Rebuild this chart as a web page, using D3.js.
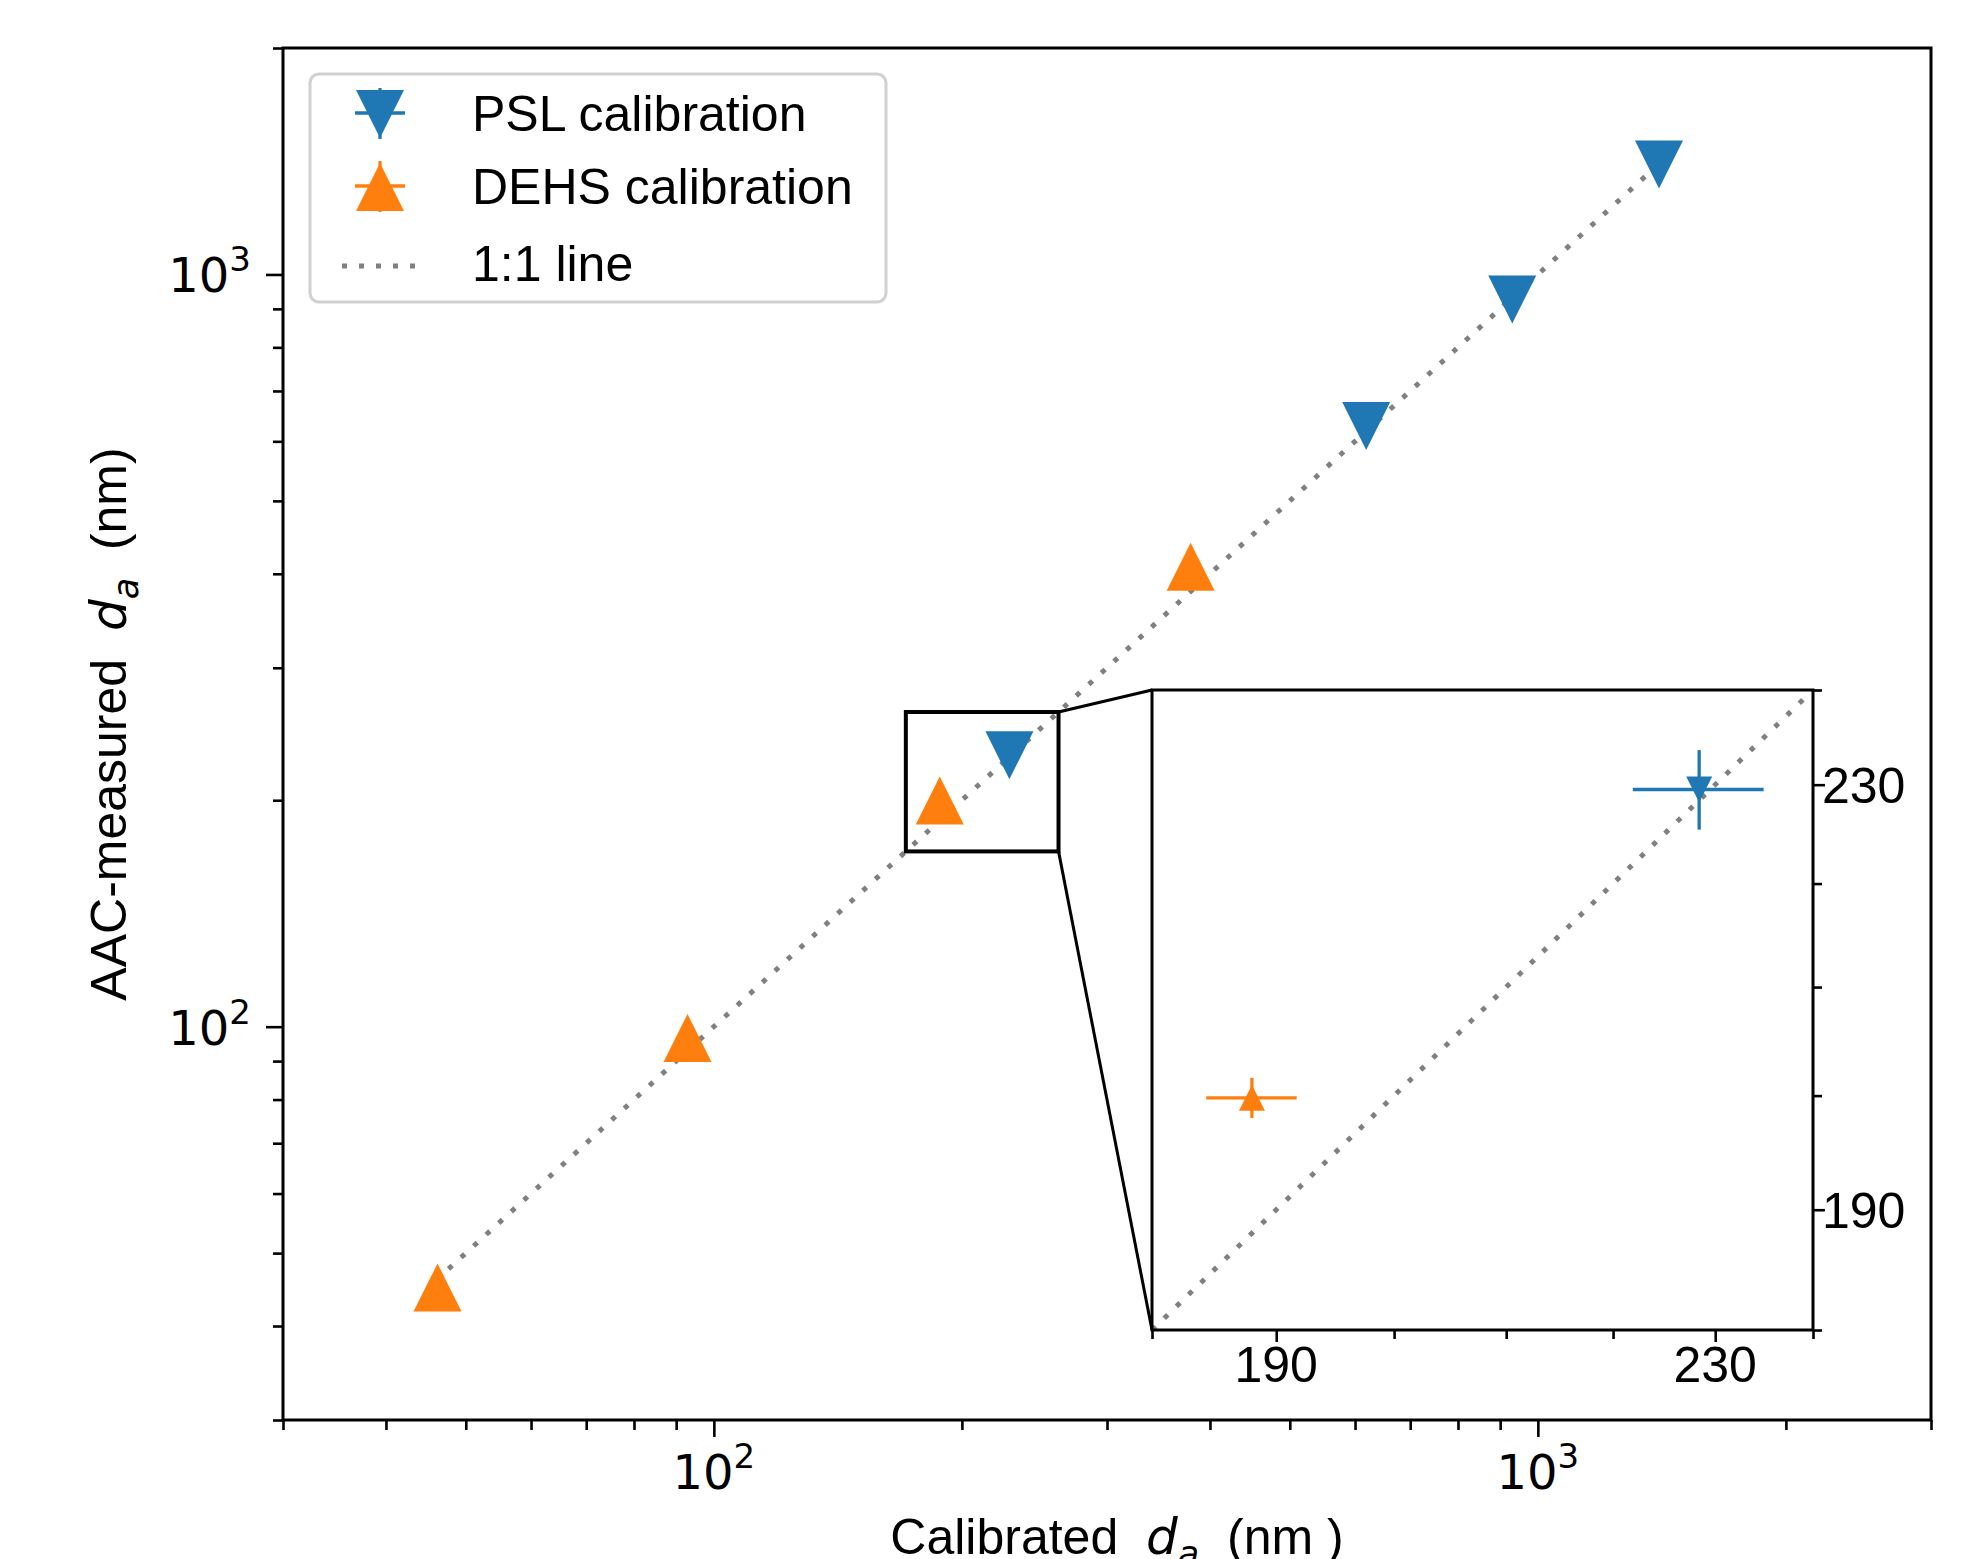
<!DOCTYPE html>
<html lang="en">
<head>
    <meta charset="UTF-8">
    <title>AAC calibration</title>
    <script src="https://cdn.jsdelivr.net/npm/d3@7"></script>
    <style>
        body { margin: 0; background: #fff; }
        text { font-family: "Liberation Sans", Arial, sans-serif; fill: #000; white-space: pre; }
        .math { font-family: "DejaVu Sans", sans-serif; }
    </style>
</head>
<body>
<div id="chart-space"></div>
<script>
    // data (nm)
    var pslCalibrated = [228.4, 619, 931, 1403];
    var pslMeasured   = [229.5, 629, 926, 1400];
    var pslErrX       = [6.5, 12, 15, 20];
    var pslErrY       = [4.1, 10, 14, 18];

    var dehsCalibrated = [46.2, 92.9, 188.0, 379];
    var dehsMeasured   = [45.0, 96.6, 199.8, 408.7];
    var dehsErrX       = [1.0, 2.0, 3.7, 7];
    var dehsErrY       = [0.8, 1.5, 1.8, 5];

    var oneToOne = [46, 1400];

    // axis ranges and ticks
    var mainRange = [30, 3000];
    var mainYRange = [30, 2000];
    var majorTicks = [100, 1000];
    var majorExp = ["2", "3"];
    var minorTicksX = [30, 40, 50, 60, 70, 80, 90, 200, 300, 400, 500, 600, 700, 800, 900, 2000, 3000];
    var minorTicksY = [30, 40, 50, 60, 70, 80, 90, 200, 300, 400, 500, 600, 700, 800, 900, 2000];

    var insetRange = [180, 240];
    var insetMajor = [190, 230];
    var insetMinor = [180, 200, 210, 220, 240];
    var zoomBox = [171, 262];

    var legendLabels = ["PSL calibration", "DEHS calibration", "1:1 line"];

    var blue = "#1f77b4", orange = "#ff7f0e", grey = "#808080";

    var width = 1970, height = 1559;
    var margin = {top: 48, left: 283, right: 39, bottom: 139};
    var chartWidth = width - margin.left - margin.right;
    var chartHeight = height - margin.top - margin.bottom;

    var inset = {x: 1152, y: 690, w: 661, h: 640};

    var svg = d3.select("#chart-space").append("svg")
        .attr("width", width).attr("height", height);

    var xScale = d3.scaleLog().domain(mainRange).range([0, chartWidth]);
    var yScale = d3.scaleLog().domain(mainYRange).range([chartHeight, 0]);

    var g = svg.append("g").attr("transform", "translate(" + margin.left + "," + margin.top + ")");

    function tri(size, up) {
        var h = size / 2;
        return up ? "M0," + (-h) + "L" + h + "," + h + "L" + (-h) + "," + h + "Z"
                  : "M0," + h + "L" + h + "," + (-h) + "L" + (-h) + "," + (-h) + "Z";
    }

    function styleAxis(sel) {
        sel.select(".domain").remove();
        sel.selectAll(".tick line").attr("stroke", "#000").attr("stroke-width", 2.6);
        sel.selectAll(".tick text").remove();
    }

    function drawSeries(target, xs, ys, xc, yc, ex, ey, colour, up, size) {
        var pts = xc.map(function(d, i) { return {x: d, y: yc[i], ex: ex[i], ey: ey[i]}; });
        target.selectAll(null).data(pts).join("line")
            .attr("x1", function(d){ return xs(d.x - d.ex); })
            .attr("x2", function(d){ return xs(d.x + d.ex); })
            .attr("y1", function(d){ return ys(d.y); })
            .attr("y2", function(d){ return ys(d.y); })
            .attr("stroke", colour).attr("stroke-width", 3.3);
        target.selectAll(null).data(pts).join("line")
            .attr("x1", function(d){ return xs(d.x); })
            .attr("x2", function(d){ return xs(d.x); })
            .attr("y1", function(d){ return ys(d.y - d.ey); })
            .attr("y2", function(d){ return ys(d.y + d.ey); })
            .attr("stroke", colour).attr("stroke-width", 3.3);
        target.selectAll(null).data(pts).join("path")
            .attr("d", tri(size, up))
            .attr("transform", function(d){ return "translate(" + xs(d.x) + "," + ys(d.y) + ")"; })
            .attr("fill", colour);
    }

    // 1:1 line
    g.append("line")
        .attr("x1", xScale(oneToOne[0])).attr("y1", yScale(oneToOne[0]))
        .attr("x2", xScale(oneToOne[1])).attr("y2", yScale(oneToOne[1]))
        .attr("stroke", grey).attr("stroke-width", 5).attr("stroke-dasharray", "5,12");

    drawSeries(g, xScale, yScale, pslCalibrated, pslMeasured, pslErrX, pslErrY, blue, false, 48);
    drawSeries(g, xScale, yScale, dehsCalibrated, dehsMeasured, dehsErrX, dehsErrY, orange, true, 48);

    // ticks
    g.append("g").attr("transform", "translate(0," + chartHeight + ")")
        .call(d3.axisBottom(xScale).tickValues(majorTicks).tickSize(17)).call(styleAxis);
    g.append("g").attr("transform", "translate(0," + chartHeight + ")")
        .call(d3.axisBottom(xScale).tickValues(minorTicksX).tickSize(10)).call(styleAxis);
    g.append("g").call(d3.axisLeft(yScale).tickValues(majorTicks).tickSize(17)).call(styleAxis);
    g.append("g").call(d3.axisLeft(yScale).tickValues(minorTicksY).tickSize(10)).call(styleAxis);

    // tick labels with superscripts (mathtext style)
    var xl = g.selectAll(null).data(majorTicks).join("text")
        .attr("class", "math")
        .attr("x", function(d){ return xScale(d); })
        .attr("y", chartHeight + 69)
        .attr("text-anchor", "middle").attr("font-size", 48);
    xl.append("tspan").text("10");
    xl.append("tspan").attr("font-size", 34).attr("dy", -21).text(function(d, i){ return majorExp[i]; });

    var yl = g.selectAll(null).data(majorTicks).join("text")
        .attr("class", "math")
        .attr("x", -32)
        .attr("y", function(d){ return yScale(d) + 18; })
        .attr("text-anchor", "end").attr("font-size", 48);
    yl.append("tspan").text("10");
    yl.append("tspan").attr("font-size", 34).attr("dy", -21).text(function(d, i){ return majorExp[i]; });

    // frame
    g.append("rect").attr("width", chartWidth).attr("height", chartHeight)
        .attr("fill", "none").attr("stroke", "#000").attr("stroke-width", 3);

    // axis labels
    var xt = svg.append("text").attr("x", 1117).attr("y", 1554)
        .attr("text-anchor", "middle").attr("font-size", 50);
    xt.append("tspan").text("Calibrated  ");
    xt.append("tspan").attr("class", "math").attr("font-style", "italic").text("d");
    xt.append("tspan").attr("class", "math").attr("font-style", "italic").attr("font-size", 35).attr("dy", 12).text("a");
    xt.append("tspan").attr("dy", -12).text("  (nm )");

    var yt = svg.append("text").attr("transform", "translate(126,724) rotate(-90)")
        .attr("text-anchor", "middle").attr("font-size", 50);
    yt.append("tspan").text("AAC-measured  ");
    yt.append("tspan").attr("class", "math").attr("font-style", "italic").text("d");
    yt.append("tspan").attr("class", "math").attr("font-style", "italic").attr("font-size", 35).attr("dy", 12).text("a");
    yt.append("tspan").attr("dy", -12).text("  (nm)");

    // zoom indicator box and connectors
    var bx0 = margin.left + xScale(zoomBox[0]), bx1 = margin.left + xScale(zoomBox[1]);
    var by0 = margin.top + yScale(zoomBox[1]), by1 = margin.top + yScale(zoomBox[0]);
    svg.append("rect").attr("x", bx0).attr("y", by0).attr("width", bx1 - bx0).attr("height", by1 - by0)
        .attr("fill", "none").attr("stroke", "#000").attr("stroke-width", 4);
    svg.append("line").attr("x1", bx1).attr("y1", by0).attr("x2", inset.x).attr("y2", inset.y)
        .attr("stroke", "#000").attr("stroke-width", 3);
    svg.append("line").attr("x1", bx1).attr("y1", by1).attr("x2", inset.x).attr("y2", inset.y + inset.h)
        .attr("stroke", "#000").attr("stroke-width", 3);

    // inset axes
    var ix = d3.scaleLog().domain(insetRange).range([0, inset.w]);
    var iy = d3.scaleLog().domain(insetRange).range([inset.h, 0]);
    var ig = svg.append("g").attr("transform", "translate(" + inset.x + "," + inset.y + ")");
    ig.append("rect").attr("width", inset.w).attr("height", inset.h).attr("fill", "#fff");
    ig.append("clipPath").attr("id", "inset-clip").append("rect")
        .attr("width", inset.w).attr("height", inset.h);
    var ic = ig.append("g").attr("clip-path", "url(#inset-clip)");
    ic.append("line")
        .attr("x1", ix(insetRange[0])).attr("y1", iy(insetRange[0]))
        .attr("x2", ix(insetRange[1])).attr("y2", iy(insetRange[1]))
        .attr("stroke", grey).attr("stroke-width", 5).attr("stroke-dasharray", "5,12");
    drawSeries(ic, ix, iy, pslCalibrated, pslMeasured, pslErrX, pslErrY, blue, false, 26);
    drawSeries(ic, ix, iy, dehsCalibrated, dehsMeasured, dehsErrX, dehsErrY, orange, true, 26);

    ig.append("g").attr("transform", "translate(0," + inset.h + ")")
        .call(d3.axisBottom(ix).tickValues(insetMajor).tickSize(12)).call(styleAxis);
    ig.append("g").attr("transform", "translate(0," + inset.h + ")")
        .call(d3.axisBottom(ix).tickValues(insetMinor).tickSize(9)).call(styleAxis);
    ig.append("g").attr("transform", "translate(" + inset.w + ",0)")
        .call(d3.axisRight(iy).tickValues(insetMajor).tickSize(12)).call(styleAxis);
    ig.append("g").attr("transform", "translate(" + inset.w + ",0)")
        .call(d3.axisRight(iy).tickValues(insetMinor).tickSize(9)).call(styleAxis);

    ig.selectAll(null).data(insetMajor).join("text")
        .attr("x", function(d){ return ix(d); }).attr("y", inset.h + 52)
        .attr("text-anchor", "middle").attr("font-size", 50).text(function(d){ return d; });
    ig.selectAll(null).data(insetMajor).join("text")
        .attr("x", inset.w + 9).attr("y", function(d){ return iy(d) + 18; })
        .attr("font-size", 50).text(function(d){ return d; });
    ig.append("rect").attr("width", inset.w).attr("height", inset.h)
        .attr("fill", "none").attr("stroke", "#000").attr("stroke-width", 3);

    // legend
    var lg = svg.append("g");
    lg.append("rect").attr("x", 310).attr("y", 74).attr("width", 576).attr("height", 228)
        .attr("rx", 9).attr("fill", "#fff").attr("fill-opacity", 0.8)
        .attr("stroke", "#d0d0d0").attr("stroke-width", 3);
    var rowY = [114, 187, 264];
    var gx = 380;
    [[blue, false], [orange, true]].forEach(function(s, i) {
        lg.append("line").attr("x1", gx - 25).attr("x2", gx + 25).attr("y1", rowY[i] - 1).attr("y2", rowY[i] - 1)
            .attr("stroke", s[0]).attr("stroke-width", 3.3);
        lg.append("line").attr("x1", gx).attr("x2", gx).attr("y1", rowY[i] - 26).attr("y2", rowY[i] + 25)
            .attr("stroke", s[0]).attr("stroke-width", 3.3);
        lg.append("path").attr("d", tri(48, s[1])).attr("transform", "translate(" + gx + "," + rowY[i] + ")")
            .attr("fill", s[0]);
    });
    lg.append("line").attr("x1", 342).attr("x2", 418).attr("y1", rowY[2] + 2).attr("y2", rowY[2] + 2)
        .attr("stroke", grey).attr("stroke-width", 5).attr("stroke-dasharray", "5,12");
    lg.selectAll(null).data(legendLabels).join("text")
        .attr("x", 472).attr("y", function(d, i){ return rowY[i] + 17; })
        .attr("font-size", 50).text(function(d){ return d; });
</script>
</body>
</html>
